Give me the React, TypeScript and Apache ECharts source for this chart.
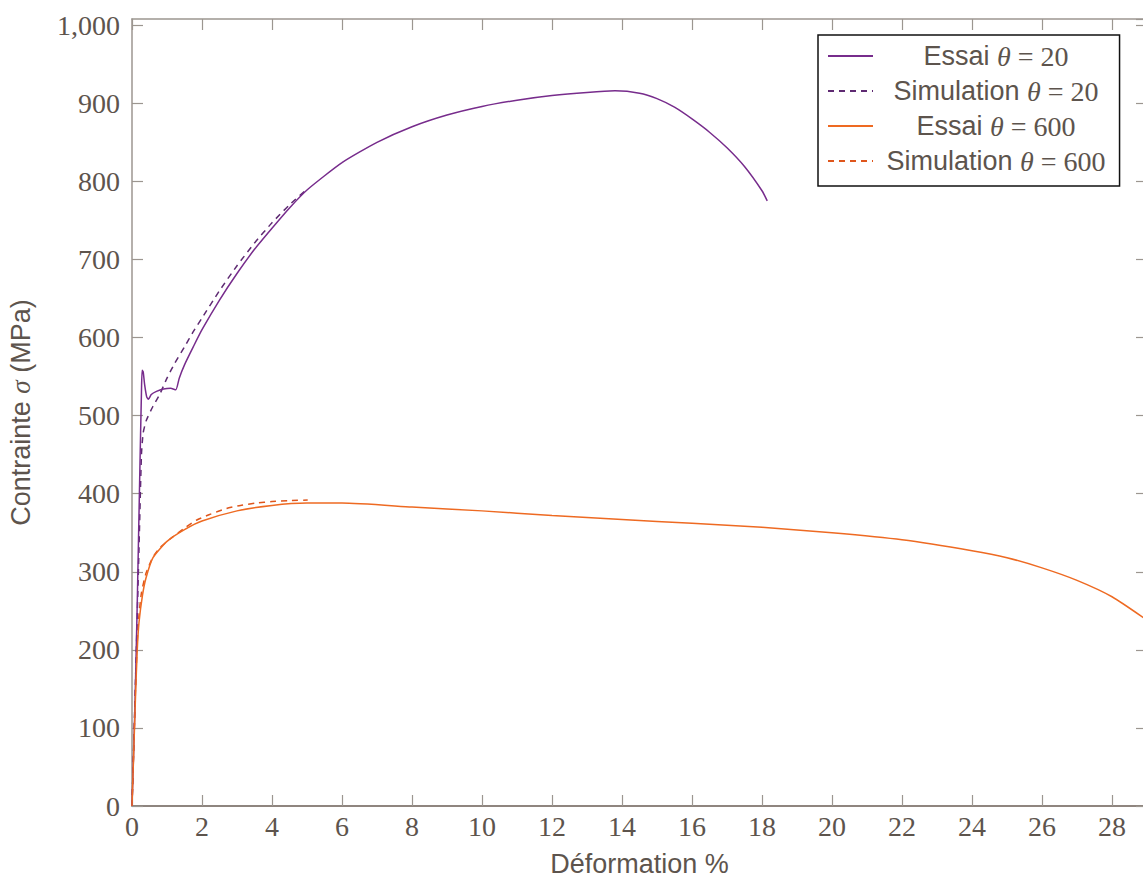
import React, { useEffect, useRef } from "react";
import * as echarts from "echarts";

const xTicks = { min: 0, max: 29, interval: 2 };
const yTicks = { min: 0, max: 1008, interval: 100 };

const essai20: [number, number][] = [
  [0, 0], [0.08, 120], [0.15, 260], [0.22, 420], [0.27, 530], [0.29, 558], [0.32, 556],
  [0.36, 540], [0.42, 524], [0.47, 521], [0.55, 527], [0.7, 531], [0.9, 534], [1.1, 535],
  [1.25, 533], [1.35, 548], [1.5, 565], [1.75, 588], [2, 610], [2.5, 648], [3, 682],
  [3.5, 713], [4, 740], [4.5, 766], [5, 789], [6, 824], [7, 850], [8, 870], [9, 885],
  [10, 896], [11, 904], [12, 910], [13, 914], [13.8, 916], [14.5, 913], [15, 906],
  [15.5, 895], [16, 880], [16.5, 863], [17, 843], [17.5, 819], [18, 788], [18.15, 775],
];

const simulation20: [number, number][] = [
  [0, 0], [0.1, 160], [0.2, 330], [0.27, 450], [0.32, 478], [0.41, 494], [0.6, 512],
  [0.8, 528], [1.0, 548], [1.22, 567], [1.5, 588], [1.73, 606], [2, 625], [2.5, 660],
  [3, 692], [3.5, 721], [4, 747], [4.5, 770], [5, 790],
];

const essai600: [number, number][] = [
  [0, 0], [0.05, 70], [0.1, 140], [0.15, 200], [0.2, 235], [0.3, 270], [0.4, 292],
  [0.6, 318], [1.0, 339], [1.5, 354], [2, 365], [3, 378], [4, 385], [5, 388], [6, 388],
  [8, 383], [10, 378], [12, 372], [14, 367], [16, 362], [18, 357], [20, 350], [22, 341],
  [24, 327], [25, 318], [26, 305], [27, 289], [28, 268], [29, 238],
];

const simulation600: [number, number][] = [
  [0, 0], [0.05, 75], [0.1, 150], [0.15, 210], [0.2, 245], [0.27, 273], [0.4, 298],
  [0.6, 319], [0.8, 331], [1.12, 343], [1.5, 356], [1.84, 366], [2.2, 373], [2.7, 381],
  [3.1, 385], [3.55, 388], [4, 390], [4.5, 391], [5.02, 392],
];

const seriesNames = ["Essai θ = 20", "Simulation θ = 20", "Essai θ = 600", "Simulation θ = 600"];
const legendParts: Record<string, [string, string]> = {
  "Essai θ = 20": ["Essai", "20"],
  "Simulation θ = 20": ["Simulation", "20"],
  "Essai θ = 600": ["Essai", "600"],
  "Simulation θ = 600": ["Simulation", "600"],
};

const TEXT = "#5d544d";
const SERIF = "'Liberation Serif', 'DejaVu Serif', serif";
const SANS = "'Liberation Sans', Arial, sans-serif";
const AXIS_GRAY = "#9c9690";

export default function App() {
  const ref = useRef<HTMLDivElement>(null);
  useEffect(() => {
    if (!ref.current) return;
    const chart = echarts.init(ref.current, undefined, { renderer: "svg" });
    const baseAxis = {
      type: "value" as const,
      axisTick: { show: true, inside: true, length: 11, lineStyle: { color: AXIS_GRAY, width: 1.2 } },
      splitLine: { show: false },
    };
    const lineCommon = {
      type: "line" as const,
      showSymbol: false,
      symbol: "none",
      smooth: 0.2,
    };
    chart.setOption({
      animation: false,
      backgroundColor: "#ffffff",
      grid: { left: 132, top: 19, width: 1015, height: 787, containLabel: false, outerBoundsMode: "none" },
      xAxis: [
        {
          ...baseAxis,
          min: xTicks.min,
          max: xTicks.max,
          interval: xTicks.interval,
          position: "bottom",
          axisLine: { show: true, onZero: false, lineStyle: { color: "#6a5d55", width: 1.5 } },
          axisLabel: { color: TEXT, fontFamily: SERIF, fontSize: 28, margin: 6, showMaxLabel: false },
          name: "{s|Déformation %}",
          nameLocation: "middle",
          nameGap: 44,
          nameTextStyle: { rich: { s: { fontFamily: SANS, fontSize: 27, color: TEXT } } },
        },
        {
          ...baseAxis,
          min: xTicks.min,
          max: xTicks.max,
          interval: xTicks.interval,
          position: "top",
          axisLine: { show: true, onZero: false, lineStyle: { color: AXIS_GRAY, width: 1.5 } },
          axisLabel: { show: false },
        },
      ],
      yAxis: [
        {
          ...baseAxis,
          min: yTicks.min,
          max: yTicks.max,
          interval: yTicks.interval,
          position: "left",
          axisLine: { show: true, onZero: false, lineStyle: { color: AXIS_GRAY, width: 1.5 } },
          axisLabel: {
            color: TEXT,
            fontFamily: SERIF,
            fontSize: 28,
            margin: 12,
            showMaxLabel: false,
            formatter: (v: number) => v.toLocaleString("en-US"),
          },
          name: "{s|Contrainte }{m|σ}{s| (MPa)}",
          nameLocation: "middle",
          nameGap: 98,
          nameTextStyle: {
            rich: {
              s: { fontFamily: SANS, fontSize: 27, color: TEXT },
              m: { fontFamily: SERIF, fontStyle: "italic", fontSize: 27, color: TEXT },
            },
          },
        },
        {
          ...baseAxis,
          min: yTicks.min,
          max: yTicks.max,
          interval: yTicks.interval,
          position: "right",
          axisLine: { show: true, onZero: false, lineStyle: { color: AXIS_GRAY, width: 1.5 } },
          axisLabel: { show: false },
        },
      ],
      legend: {
        data: seriesNames,
        orient: "vertical",
        left: 818,
        top: 35,
        padding: [7, 14, 11, 9],
        itemGap: 7,
        itemWidth: 45,
        itemHeight: 14,
        itemStyle: { opacity: 0 },
        backgroundColor: "#ffffff",
        borderColor: "#111111",
        borderWidth: 1.5,
        borderRadius: 0,
        formatter: (name: string) => {
          const p = legendParts[name];
          return `{s|${p[0]} }{m|θ}{n| = ${p[1]}}`;
        },
        textStyle: {
          width: 236,
          color: TEXT,
          rich: {
            s: { fontFamily: SANS, fontSize: 27, color: TEXT, align: "center", lineHeight: 31 },
            m: { fontFamily: SERIF, fontStyle: "italic", fontSize: 28, color: TEXT, align: "center", lineHeight: 31 },
            n: { fontFamily: SERIF, fontSize: 28, color: TEXT, align: "center", lineHeight: 31 },
          },
        },
      },
      series: [
        {
          ...lineCommon,
          name: seriesNames[0],
          data: essai20,
          color: "#772c8c",
          lineStyle: { color: "#772c8c", width: 1.5 },
          z: 3,
        },
        {
          ...lineCommon,
          name: seriesNames[1],
          data: simulation20,
          color: "#5e2a72",
          lineStyle: { color: "#5e2a72", width: 1.5, type: [6, 5] },
          z: 2,
        },
        {
          ...lineCommon,
          name: seriesNames[2],
          data: essai600,
          color: "#ee6a22",
          lineStyle: { color: "#ee6a22", width: 1.5 },
          z: 3,
        },
        {
          ...lineCommon,
          name: seriesNames[3],
          data: simulation600,
          color: "#df561c",
          lineStyle: { color: "#df561c", width: 1.5, type: [6, 5] },
          z: 2,
        },
      ],
    });
    return () => chart.dispose();
  }, []);
  return (
    <div
      ref={ref}
      style={{ position: "absolute", left: 0, top: 0, width: 1143, height: 880, overflow: "hidden" }}
    />
  );
}
